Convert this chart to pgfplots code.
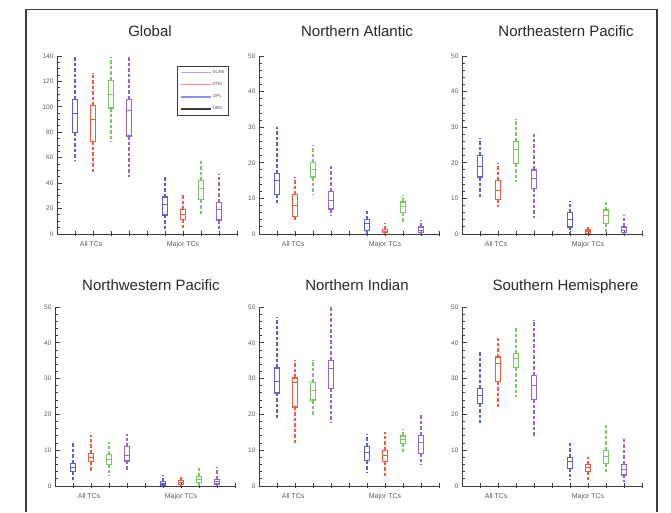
\documentclass[border=0pt]{standalone}
\usepackage{fontspec}
\setmainfont{Liberation Sans}
\usepackage{pgfplots}
\pgfplotsset{compat=1.18}
\usepgfplotslibrary{statistics}

\definecolor{cB}{RGB}{90,95,210}
\definecolor{cR}{RGB}{242,90,60}
\definecolor{cG}{RGB}{120,200,95}
\definecolor{cP}{RGB}{150,100,210}
\definecolor{lSLAB}{RGB}{190,160,230}
\definecolor{lATM}{RGB}{245,140,120}
\definecolor{lOPL}{RGB}{140,145,225}
\definecolor{lOBS}{RGB}{60,60,60}
\definecolor{axgray}{RGB}{60,60,60}
\definecolor{lblgray}{RGB}{90,90,90}
\definecolor{titlegray}{RGB}{40,40,40}

% one box: colour, position, lower whisker, lower quartile, median, upper quartile, upper whisker
\newcommand{\bx}[7]{\addplot[draw=#1, boxplot prepared={draw direction=y, draw position=#2,
    lower whisker=#3, lower quartile=#4, median=#5, upper quartile=#6, upper whisker=#7,
    box extend=0.3, whisker extend=0}] coordinates {};}

\pgfplotsset{
  boxplot/every box/.style={line width=1.3pt},
  boxplot/every whisker/.style={line width=2.1pt, dash pattern=on 3.5pt off 2pt},
  boxplot/every median/.style={line width=0.9pt},
  panel/.style={scale only axis, width=180pt,
    axis x line=bottom, axis y line=left,
    axis line style={-, line width=1pt, draw=axgray},
    xmin=0, xmax=10, ymin=0,
    xtick={1,...,10}, xticklabels={},
    tick align=inside, major tick length=5pt, minor tick length=2.5pt,
    every tick/.style={line width=0.9pt, draw=axgray},
    xtick style={yshift=-2pt},
    ticklabel style={font=\fontsize{6.5}{7}\selectfont, text=lblgray},
    /pgf/number format/assume math mode=true,
    clip=false},
  fifty/.style={ymax=50, ytick={0,10,...,50}, minor y tick num=4},
}

\newcommand{\tclabels}{%
  \node[font=\fontsize{7}{8}\selectfont, text=lblgray, anchor=base] at (axis cs:1.9,0) [yshift=-12pt] {All TCs};
  \node[font=\fontsize{7}{8}\selectfont, text=lblgray, anchor=base] at (axis cs:7.0,0) [yshift=-12pt] {Major TCs};}

\begin{document}
\begin{tikzpicture}[x=1pt, y=1pt]
\useasboundingbox (0,0) rectangle (671,512);
\draw[axgray, line width=1.1pt] (26,0) -- (26,502.7) -- (657,502.7) -- (657,0);

\begin{scope}[every node/.style={font=\fontsize{15}{18}\selectfont, text=titlegray, anchor=base}]
\node at (150,475) {Global};
\node at (357,475) {Northern Atlantic};
\node at (566,475) {Northeastern Pacific};
\node at (151,221.5) {Northwestern Pacific};
\node at (357,221.5) {Northern Indian};
\node at (565.5,221.5) {Southern Hemisphere};
\end{scope}

% Global
\begin{axis}[panel, at={(57pt,278pt)}, anchor=south west, height=178pt,
  ymax=140, ytick={0,20,...,140}, minor y tick num=3,
  legend style={at={(rel axis cs:0.667,0.944)}, anchor=north west,
    draw=axgray, line width=0.8pt, font=\fontsize{4.5}{5}\selectfont, text=lblgray,
    inner sep=3pt, row sep=6pt, nodes={inner sep=0.8pt}},
  legend cell align=left,
  legend image code/.code={\draw[#1, line width=1.4pt] (0pt,0pt) -- (30pt,0pt);}]
\addlegendimage{lSLAB}\addlegendentry{SLAB}
\addlegendimage{lATM}\addlegendentry{ATM}
\addlegendimage{lOPL}\addlegendentry{OPL}
\addlegendimage{lOBS}\addlegendentry{OBS}
\bx{cB}{1}{58}{80}{95}{106}{139}
\bx{cR}{2}{48}{73}{90}{101}{127}
\bx{cG}{3}{73}{99}{110}{121}{139}
\bx{cP}{4}{45}{77}{97}{106}{139}
\bx{cB}{6}{4}{15}{23}{29}{45}
\bx{cR}{7}{4}{11.5}{15.5}{19}{31}
\bx{cG}{8}{16}{27}{36}{42}{58}
\bx{cP}{9}{3}{11}{19}{25}{47}
\tclabels
\end{axis}

% Northern Atlantic
\begin{axis}[panel, fifty, at={(259pt,278pt)}, anchor=south west, height=178pt]
\bx{cB}{1}{8.6}{11}{15}{17}{30}
\bx{cR}{2}{3.7}{5}{8}{11}{16}
\bx{cG}{3}{11}{16}{18}{20}{25}
\bx{cP}{4}{5}{7}{9.5}{12}{19}
\bx{cB}{6}{0}{1}{3}{4}{7}
\bx{cR}{7}{0}{0.4}{0.8}{1.3}{3}
\bx{cG}{8}{3}{6}{7.7}{9}{11}
\bx{cP}{9}{0}{0.5}{1.1}{2}{4}
\tclabels
\end{axis}

% Northeastern Pacific
\begin{axis}[panel, fifty, at={(462pt,278pt)}, anchor=south west, height=178pt]
\bx{cB}{1}{10.5}{16}{19}{22}{27}
\bx{cR}{2}{7.7}{9.7}{12.3}{15}{20}
\bx{cG}{3}{14.7}{19.8}{23.7}{26}{32.4}
\bx{cP}{4}{4.4}{12.8}{15.6}{18}{28}
\bx{cB}{6}{0}{2}{4}{6}{9.3}
\bx{cR}{7}{0}{0.2}{0.6}{1.1}{2}
\bx{cG}{8}{0.6}{3}{5.3}{6.7}{9}
\bx{cP}{9}{0}{0.4}{1.1}{2}{5.3}
\tclabels
\end{axis}

% Northwestern Pacific
\begin{axis}[panel, fifty, at={(55pt,26pt)}, anchor=south west, height=179pt]
\bx{cB}{1}{1.7}{4}{5.2}{6.3}{12.4}
\bx{cR}{2}{4}{6.8}{8}{9.1}{14.2}
\bx{cG}{3}{3}{6.1}{7.4}{8.8}{12.4}
\bx{cP}{4}{4}{7}{8.6}{11}{14.5}
\bx{cB}{6}{0}{0.3}{0.7}{1.2}{3}
\bx{cR}{7}{0}{0.5}{0.9}{1.5}{3}
\bx{cG}{8}{0}{0.9}{1.7}{2.6}{5.4}
\bx{cP}{9}{0}{0.6}{1.2}{1.9}{5.2}
\tclabels
\end{axis}

% Northern Indian
\begin{axis}[panel, fifty, at={(259pt,26pt)}, anchor=south west, height=179pt]
\bx{cB}{1}{18.6}{26}{29.3}{33}{47.2}
\bx{cR}{2}{11.9}{22.1}{28.8}{30.2}{35.3}
\bx{cG}{3}{19.8}{24}{26.8}{29}{35.3}
\bx{cP}{4}{17.7}{27.2}{32.8}{35.1}{50}
\bx{cB}{6}{3.7}{7.1}{9.3}{11.1}{14.5}
\bx{cR}{7}{2.8}{6.8}{8.6}{10}{15.1}
\bx{cG}{8}{9.1}{11.9}{13}{14}{16}
\bx{cP}{9}{5.9}{9.1}{12.1}{14.2}{20.3}
\tclabels
\end{axis}

% Southern Hemisphere
\begin{axis}[panel, fifty, at={(462pt,26pt)}, anchor=south west, height=179pt]
\bx{cB}{1}{17.7}{23}{25.4}{27.2}{37.9}
\bx{cR}{2}{21.6}{29.1}{34.2}{36}{41.4}
\bx{cG}{3}{24.9}{33.1}{35.6}{37}{44.4}
\bx{cP}{4}{13.7}{24.2}{28.1}{30.9}{46.3}
\bx{cB}{6}{1.7}{4.9}{6.8}{8}{12.4}
\bx{cR}{7}{1.7}{4}{5.2}{6.1}{8.2}
\bx{cG}{8}{3.5}{6.3}{8.2}{10}{17.5}
\bx{cP}{9}{1.2}{3.1}{4.6}{6.1}{13.3}
\tclabels
\end{axis}
\end{tikzpicture}
\end{document}
